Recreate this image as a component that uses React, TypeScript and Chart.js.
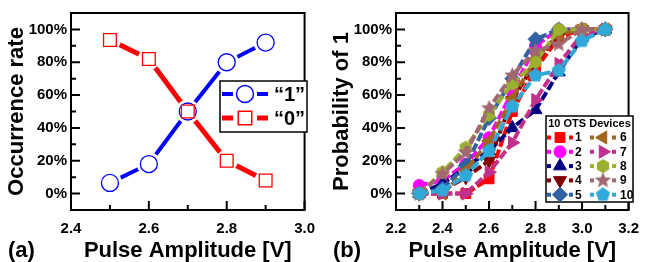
import React, { useEffect, useRef } from 'react';
import { Chart, registerables } from 'chart.js';
import { drawPoint } from 'chart.js/helpers';

Chart.register(...registerables);

const FONT = "'Liberation Sans', Arial, Helvetica, sans-serif";

// ---------- Panel (a) data ----------
const pulseA = [2.5, 2.6, 2.7, 2.8, 2.9];
const rate1 = [6.5, 18, 50, 80, 92];
const rate0 = [93.5, 82, 50, 20, 8];
const xTicksA = [2.4, 2.6, 2.8, 3.0];
const xMinorA = [2.5, 2.7, 2.9];
const legendA = ['\u201C1\u201D', '\u201C0\u201D'];

// ---------- Panel (b) data ----------
const pulseB = [2.3, 2.4, 2.5, 2.6, 2.7, 2.8, 2.9, 3.0, 3.1];
const dev1 = [0, 0, 0, 9, 50, 76, 95, 100, 100];
const dev2 = [5, 8, 18, 34, 62, 90, 100, 100, 100];
const dev3 = [0, 6, 16, 26, 40, 51, 74, 95, 100];
const dev4 = [0, 2, 10, 20, 57, 80, 97, 100, 100];
const dev5 = [0, 3, 17, 46, 70, 94, 100, 100, 100];
const dev6 = [0, 0, 14, 32, 58, 82, 97, 100, 100];
const dev7 = [0, 0, 0, 13, 31, 57, 79, 97, 100];
const dev8 = [0, 13, 28, 48, 67, 80, 100, 100, 100];
const dev9 = [0, 12, 25, 52, 72, 87, 91, 100, 100];
const dev10 = [0, 2, 11, 26, 53, 72, 75, 93, 100];
const devices = [dev1, dev2, dev3, dev4, dev5, dev6, dev7, dev8, dev9, dev10];
const deviceNames = ['1', '2', '3', '4', '5', '6', '7', '8', '9', '10'];
const deviceColors = ['#FF0000', '#FF00FF', '#000080', '#800000', '#3062A2', '#A0651E', '#C0308C', '#9CB030', '#A06870', '#30A8D8'];
const legendTitleB = '10 OTS Devices';
const xTicksB = [2.2, 2.4, 2.6, 2.8, 3.0, 3.2];
const xMinorB = [2.3, 2.5, 2.7, 2.9, 3.1];

// ---------- shared axis data ----------
const yTicks = [0, 20, 40, 60, 80, 100];
const yMinor = [10, 30, 50, 70, 90];
const xTitle = 'Pulse Amplitude [V]';

function shapeImg(color: string, kind: string, r: number) {
  const s = Math.ceil(r * 2 + 2);
  const c = document.createElement('canvas');
  c.width = s;
  c.height = s;
  const ctx = c.getContext('2d')!;
  ctx.fillStyle = color;
  ctx.beginPath();
  const cx = s / 2, cy = s / 2;
  if (kind === 'star') {
    for (let k = 0; k < 10; k++) {
      const rr = k % 2 === 0 ? r : r * 0.45;
      const a = -Math.PI / 2 + (k * Math.PI) / 5;
      const px = cx + rr * Math.cos(a), py = cy + rr * Math.sin(a);
      if (k === 0) ctx.moveTo(px, py); else ctx.lineTo(px, py);
    }
  } else {
    const n = kind === 'hex' ? 6 : 5;
    for (let k = 0; k < n; k++) {
      const a = -Math.PI / 2 + (k * 2 * Math.PI) / n;
      const px = cx + r * Math.cos(a), py = cy + r * Math.sin(a);
      if (k === 0) ctx.moveTo(px, py); else ctx.lineTo(px, py);
    }
  }
  ctx.closePath();
  ctx.fill();
  return c;
}

function makeScales(xMin: number, xMax: number, xTicks: number[], yTitle: string) {
  const tickFont = { family: FONT, size: 15, weight: 'bold' as const };
  const titleFont = { family: FONT, size: 22, weight: 'bold' as const, lineHeight: 1 };
  return {
    x: {
      type: 'linear' as const,
      min: xMin,
      max: xMax,
      afterBuildTicks: (s: any) => { s.ticks = xTicks.map((v) => ({ value: v })); },
      afterFit: (s: any) => { s.height = 52; },
      grid: { display: false, drawTicks: false },
      border: { display: false },
      ticks: {
        autoSkip: false, maxRotation: 0, minRotation: 0, padding: 10, color: '#000', font: tickFont,
        callback: (v: any) => Number(v).toFixed(1),
      },
      title: { display: true, text: xTitle, color: '#000', font: titleFont, padding: { top: 0, bottom: 0 } },
    },
    y: {
      type: 'linear' as const,
      min: -10,
      max: 110,
      afterBuildTicks: (s: any) => { s.ticks = yTicks.map((v) => ({ value: v })); },
      afterFit: (s: any) => { s.width = 71; },
      grid: { display: false, drawTicks: false },
      border: { display: false },
      ticks: { autoSkip: false, padding: 4, color: '#000', font: tickFont, callback: (v: any) => v + '%' },
      title: { display: true, text: yTitle, color: '#000', font: titleFont, padding: { top: 6, bottom: 0 } },
    },
  };
}

function framePlugin(xMajor: number[], xMinor: number[], label: string) {
  return {
    id: 'frame' + label,
    afterDatasetsDraw(chart: any) {
      const { ctx, chartArea: a, scales } = chart;
      const x = scales.x, y = scales.y;
      ctx.save();
      ctx.strokeStyle = '#000';
      ctx.lineWidth = 2;
      ctx.strokeRect(a.left, a.top, a.right - a.left, a.bottom - a.top);
      ctx.beginPath();
      xMajor.forEach((v) => { const p = x.getPixelForValue(v); ctx.moveTo(p, a.bottom); ctx.lineTo(p, a.bottom - 9); });
      xMinor.forEach((v) => { const p = x.getPixelForValue(v); ctx.moveTo(p, a.bottom); ctx.lineTo(p, a.bottom - 5); });
      yTicks.forEach((v) => { const p = y.getPixelForValue(v); ctx.moveTo(a.left, p); ctx.lineTo(a.left + 9, p); });
      yMinor.forEach((v) => { const p = y.getPixelForValue(v); ctx.moveTo(a.left, p); ctx.lineTo(a.left + 5, p); });
      ctx.stroke();
      ctx.fillStyle = '#000';
      ctx.font = `bold 22px ${FONT}`;
      ctx.textAlign = 'left';
      ctx.textBaseline = 'middle';
      ctx.fillText(label, 8, 251);
      ctx.restore();
    },
  };
}

export default function App() {
  const refA = useRef<HTMLCanvasElement>(null);
  const refB = useRef<HTMLCanvasElement>(null);

  useEffect(() => {
    const blue = '#0000FF';
    const red = '#FF0000';
    const ptsA1 = pulseA.map((x, i) => ({ x, y: rate1[i] }));
    const ptsA0 = pulseA.map((x, i) => ({ x, y: rate0[i] }));

    const legendPluginA = {
      id: 'legendA',
      afterDraw(chart: any) {
        const ctx = chart.ctx;
        ctx.save();
        ctx.fillStyle = '#fff';
        ctx.fillRect(220, 81, 87, 51);
        ctx.strokeStyle = '#000';
        ctx.lineWidth = 1.5;
        ctx.strokeRect(220, 81, 87, 51);
        const rows = [
          { color: blue, style: 'circle', r: 8.5, lw: 4, y: 94, text: legendA[0] },
          { color: red, style: 'rect', r: 9.5, lw: 5, y: 118, text: legendA[1] },
        ];
        rows.forEach((row) => {
          ctx.fillStyle = row.color;
          ctx.fillRect(222, row.y - row.lw / 2, 11, row.lw);
          ctx.fillRect(257, row.y - row.lw / 2, 11, row.lw);
          ctx.fillStyle = '#fff';
          ctx.strokeStyle = row.color;
          ctx.lineWidth = 1.5;
          drawPoint(ctx, { pointStyle: row.style, radius: row.r, rotation: 0, borderWidth: 1.5 } as any, 245, row.y);
          ctx.fillStyle = '#000';
          ctx.font = `bold 20px ${FONT}`;
          ctx.textAlign = 'left';
          ctx.textBaseline = 'middle';
          ctx.fillText(row.text, 274, row.y + 1);
        });
        ctx.restore();
      },
    };

    const chartA = new Chart(refA.current!, {
      type: 'line',
      data: {
        datasets: [
          { data: ptsA0, showLine: false, pointStyle: 'rect', pointRadius: 9, pointBackgroundColor: '#fff', pointBorderColor: red, pointBorderWidth: 1.3, order: 0 },
          { data: ptsA1, showLine: false, pointStyle: 'circle', pointRadius: 8.5, pointBackgroundColor: '#fff', pointBorderColor: blue, pointBorderWidth: 1.3, order: 1 },
          { data: ptsA0, showLine: false, pointStyle: 'circle', pointRadius: 11, pointBackgroundColor: '#fff', pointBorderWidth: 0, order: 2 },
          { data: ptsA1, showLine: false, pointStyle: 'circle', pointRadius: 12, pointBackgroundColor: '#fff', pointBorderWidth: 0, order: 3 },
          { data: ptsA0, borderColor: red, borderWidth: 5, pointRadius: 0, order: 4 },
          { data: ptsA1, borderColor: blue, borderWidth: 4, pointRadius: 0, order: 5 },
        ] as any,
      },
      options: {
        animation: false,
        responsive: false,
        events: [],
        layout: { padding: { top: 10, right: 12, left: 0, bottom: 0 } },
        plugins: { legend: { display: false }, tooltip: { enabled: false } },
        scales: makeScales(2.4, 3.0, xTicksA, 'Occurrence rate') as any,
      },
      plugins: [framePlugin(xTicksA, xMinorA, '(a)'), legendPluginA],
    });

    const styles: any[] = [
      { s: 'rect', rot: 0, r: 7 },
      { s: 'circle', rot: 0, r: 6 },
      { s: 'triangle', rot: 0, r: 7.5 },
      { s: 'triangle', rot: 180, r: 7.5 },
      { s: 'rectRot', rot: 0, r: 7.5 },
      { s: 'triangle', rot: 270, r: 7.5 },
      { s: 'triangle', rot: 90, r: 7.5 },
      { s: shapeImg(deviceColors[7], 'hex', 7), rot: 0, r: 7 },
      { s: shapeImg(deviceColors[8], 'star', 8.5), rot: 0, r: 8 },
      { s: shapeImg(deviceColors[9], 'pent', 7.5), rot: 0, r: 7 },
    ];

    const legendPluginB = {
      id: 'legendB',
      afterDraw(chart: any) {
        const ctx = chart.ctx;
        ctx.save();
        ctx.fillStyle = '#fff';
        ctx.fillRect(221, 116, 87, 86);
        ctx.strokeStyle = '#000';
        ctx.lineWidth = 1.5;
        ctx.strokeRect(221, 116, 87, 86);
        ctx.fillStyle = '#000';
        ctx.font = `bold 11px ${FONT}`;
        ctx.textAlign = 'center';
        ctx.textBaseline = 'middle';
        ctx.fillText(legendTitleB, 264.5, 123.5);
        deviceNames.forEach((name, i) => {
          const col = i < 5 ? 0 : 1;
          const row = i % 5;
          const y = 137.5 + row * 14.3;
          const m = col ? 278 : 235;
          const tx = col ? 295 : 250;
          const color = deviceColors[i];
          ctx.fillStyle = color;
          ctx.fillRect(m - 13, y - 2, 4, 4);
          ctx.fillRect(m + 9, y - 2, 4, 4);
          ctx.strokeStyle = color;
          ctx.lineWidth = 1;
          drawPoint(ctx, { pointStyle: styles[i].s, radius: styles[i].r, rotation: styles[i].rot, borderWidth: 1 } as any, m, y);
          ctx.fillStyle = '#000';
          ctx.font = `bold 12px ${FONT}`;
          ctx.textAlign = 'left';
          ctx.textBaseline = 'middle';
          ctx.fillText(name, tx, y + 0.5);
        });
        ctx.restore();
      },
    };

    const chartB = new Chart(refB.current!, {
      type: 'line',
      data: {
        datasets: devices.map((vals, i) => ({
          label: deviceNames[i],
          data: pulseB.map((x, j) => ({ x, y: vals[j] })),
          borderColor: deviceColors[i],
          backgroundColor: deviceColors[i],
          borderWidth: 4,
          borderDash: [9, 3],
          pointStyle: styles[i].s,
          rotation: styles[i].rot,
          pointRadius: styles[i].r,
          pointBackgroundColor: deviceColors[i],
          pointBorderColor: deviceColors[i],
          pointBorderWidth: 1,
          order: 10 - i,
        })) as any,
      },
      options: {
        animation: false,
        responsive: false,
        events: [],
        layout: { padding: { top: 10, right: 11, left: 0, bottom: 0 } },
        plugins: { legend: { display: false }, tooltip: { enabled: false } },
        scales: makeScales(2.2, 3.2, xTicksB, 'Probability of 1') as any,
      },
      plugins: [framePlugin(xTicksB, xMinorB, '(b)'), legendPluginB],
    });

    return () => {
      chartA.destroy();
      chartB.destroy();
    };
  }, []);

  return (
    <div style={{ position: 'absolute', left: 0, top: 0, width: 649, height: 262, background: '#fff', overflow: 'hidden' }}>
      <canvas ref={refA} width={325} height={262} style={{ position: 'absolute', left: 0, top: 0, display: 'block' }} />
      <canvas ref={refB} width={324} height={262} style={{ position: 'absolute', left: 325, top: 0, display: 'block' }} />
    </div>
  );
}
